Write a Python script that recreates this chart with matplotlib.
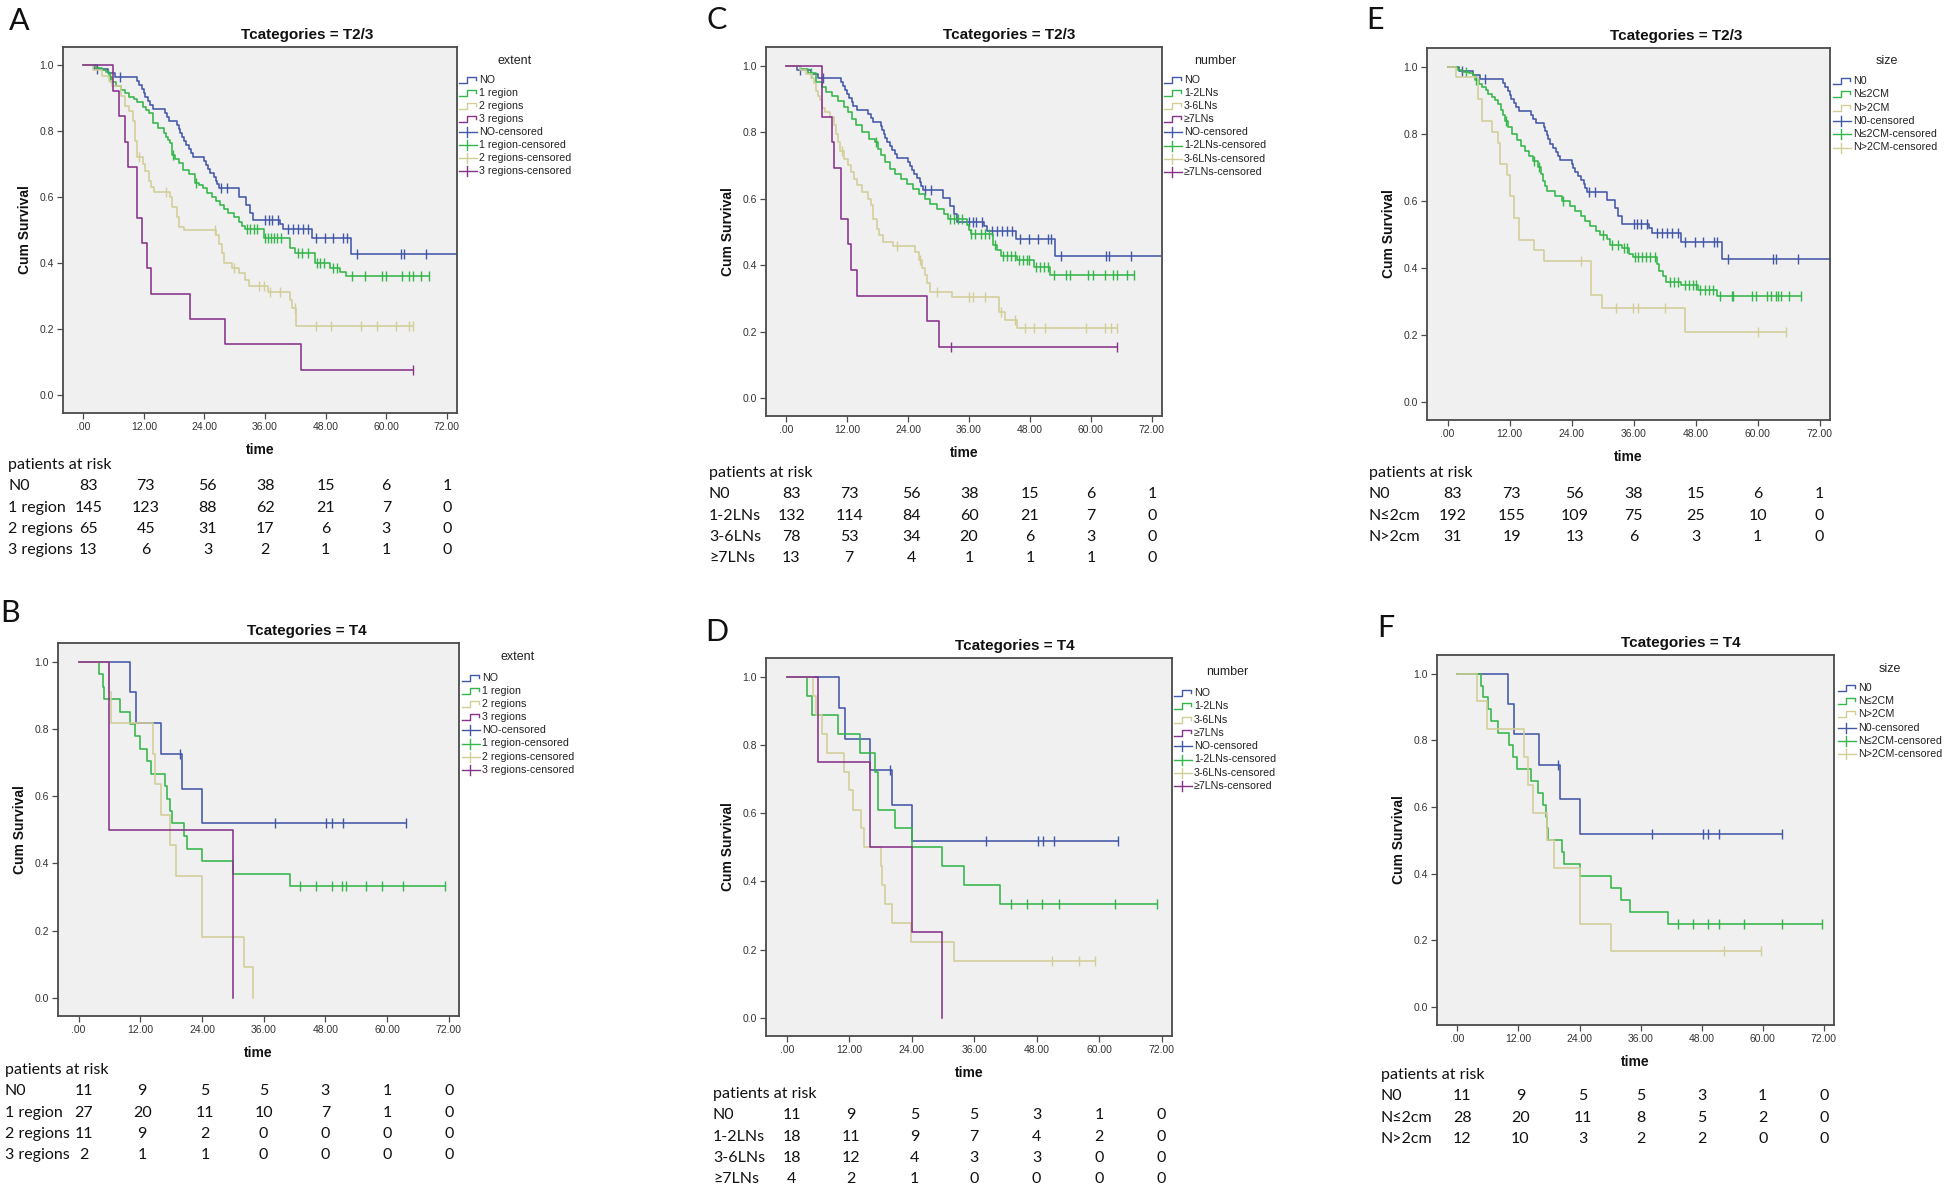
import matplotlib
matplotlib.use("Agg")
import matplotlib.pyplot as plt
import matplotlib.transforms as mtrans
from matplotlib.lines import Line2D
import numpy as np

W, H = 1946, 1189

# SPSS default colours
BLUE, GREEN, TAN, PURPLE = "#4257A8", "#35B64A", "#D3CE97", "#86328A"

SPSS_FONT = ["Liberation Sans", "DejaVu Sans"]
TABLE_FONT = ["Lato", "DejaVu Sans"]

x_ticks = [0, 12, 24, 36, 48, 60, 72]
x_tick_labels = [".00", "12.00", "24.00", "36.00", "48.00", "60.00", "72.00"]
y_ticks = [0.0, 0.2, 0.4, 0.6, 0.8, 1.0]
y_tick_labels = ["0.0", "0.2", "0.4", "0.6", "0.8", "1.0"]

# ---- N0, shared by the T2/3 panels (A, C, E)
n0_t23_time = [0, 2.2, 4.9, 6.3, 10.7, 11.1, 11.6, 12.0, 12.3, 12.9, 13.2, 13.9, 16.1, 16.6, 17.0,
               18.6, 18.9, 19.2, 19.5, 19.9, 20.4, 20.9, 21.4, 21.8, 24.0, 24.3, 24.7, 25.2, 25.8,
               26.3, 26.5, 26.9, 30.8, 32.3, 33.0, 33.7, 38.9, 39.5, 45.2, 53.0]
n0_t23_surv = [1.0, 0.988, 0.976, 0.964, 0.952, 0.940, 0.928, 0.916, 0.904, 0.892, 0.880, 0.867, 0.855,
               0.843, 0.831, 0.819, 0.807, 0.795, 0.783, 0.771, 0.759, 0.747, 0.735, 0.723, 0.711, 0.699,
               0.687, 0.675, 0.663, 0.651, 0.639, 0.627, 0.602, 0.578, 0.554, 0.530, 0.518, 0.503, 0.478, 0.427]
n0_t23_cens = [2.7, 7.2, 27.3, 28.5, 36.0, 36.7, 37.4, 38.5, 40.5, 41.5, 42.5, 43.5, 44.5, 46.0, 47.8,
               49.5, 51.5, 52.2, 54.2, 62.9, 63.6, 67.9]
n0_t23_end = 74.5

# ---- N0, shared by the T4 panels (B, D, F)
n0_t4_time = [0, 10.0, 11.1, 16.0, 20.2, 24.1]
n0_t4_surv = [1.0, 0.909, 0.818, 0.727, 0.623, 0.519]
n0_t4_cens = [19.8, 38.2, 48.2, 49.3, 51.4, 63.7]
n0_t4_end = 63.7

# ---- A: extent, T2/3
a_1r_time = [0, 2.5, 3.7, 4.5, 5.1, 5.7, 6.5, 7.4, 8.2, 9.0, 10.0, 10.7, 11.9, 12.5, 13.1, 13.9, 14.8,
             16.0, 16.4, 16.8, 17.2, 17.6, 18.2, 18.9, 19.7, 20.9, 22.1, 23.0, 23.8, 24.6, 25.4, 26.2,
             27.1, 27.9, 28.7, 29.8, 30.8, 31.4, 32.0, 35.7, 41.0, 42.0, 45.8, 48.8, 50.9, 52.1]
a_1r_surv = [1.0, 0.993, 0.986, 0.979, 0.965, 0.950, 0.938, 0.925, 0.915, 0.905, 0.897, 0.890, 0.875,
             0.865, 0.855, 0.824, 0.810, 0.794, 0.784, 0.774, 0.764, 0.728, 0.715, 0.703, 0.683, 0.670,
             0.644, 0.636, 0.627, 0.614, 0.602, 0.590, 0.577, 0.565, 0.552, 0.539, 0.526, 0.514, 0.503,
             0.476, 0.445, 0.430, 0.402, 0.385, 0.375, 0.360]
a_1r_cens = [5.3, 17.8, 22.3, 32.4, 33.0, 33.8, 34.5, 36.0, 36.6, 37.2, 37.8, 38.4, 39.1, 42.6, 43.4,
             44.5, 46.3, 46.9, 47.6, 49.4, 50.2, 53.3, 55.8, 59.1, 59.9, 63.2, 64.4, 65.2, 66.9, 68.5]
a_1r_end = 68.5

a_2r_time = [0, 2.0, 3.7, 5.1, 5.7, 7.5, 8.2, 9.0, 9.8, 10.3, 10.7, 11.9, 12.3, 13.0, 13.5, 14.1, 17.2,
             17.6, 18.5, 18.9, 20.0, 26.3, 26.8, 27.5, 27.9, 29.5, 30.8, 32.0, 32.8, 36.5, 41.0, 41.4, 42.2]
a_2r_surv = [1.0, 0.985, 0.969, 0.954, 0.938, 0.908, 0.877, 0.862, 0.831, 0.770, 0.723, 0.700, 0.680,
             0.650, 0.630, 0.617, 0.600, 0.570, 0.540, 0.510, 0.500, 0.485, 0.460, 0.430, 0.400, 0.385,
             0.370, 0.350, 0.330, 0.314, 0.290, 0.264, 0.210]
a_2r_cens = [11.1, 16.4, 26.1, 29.9, 34.9, 35.7, 36.9, 38.9, 42.0, 46.1, 49.1, 55.0, 58.1, 61.9, 64.4, 65.2]
a_2r_end = 65.2

a_3r_time = [0, 5.9, 7.0, 8.2, 8.8, 10.7, 11.7, 12.6, 13.4, 21.1, 28.1, 43.1]
a_3r_surv = [1.0, 0.923, 0.846, 0.769, 0.692, 0.538, 0.462, 0.385, 0.308, 0.231, 0.154, 0.077]
a_3r_cens = [65.2]
a_3r_end = 65.2

# ---- B: extent, T4
b_1r_time = [0, 4.0, 4.7, 5.0, 8.1, 10.1, 10.9, 11.9, 13.3, 14.1, 16.9, 17.2, 17.7, 18.1, 20.6, 21.0,
             24.0, 30.1, 41.1]
b_1r_surv = [1.0, 0.963, 0.926, 0.889, 0.852, 0.815, 0.778, 0.741, 0.704, 0.667, 0.630, 0.593, 0.556,
             0.519, 0.481, 0.444, 0.407, 0.370, 0.333]
b_1r_cens = [43.1, 46.1, 49.2, 51.2, 52.0, 56.0, 59.0, 63.1, 71.2]
b_1r_end = 71.2

b_2r_time = [0, 6.0, 6.4, 14.5, 14.9, 16.1, 17.7, 19.0, 24.0, 32.1, 34.0]
b_2r_surv = [1.0, 0.909, 0.818, 0.727, 0.636, 0.545, 0.455, 0.364, 0.182, 0.091, 0.0]

b_3r_time = [0, 6.0, 30.1]
b_3r_surv = [1.0, 0.5, 0.0]

# ---- C: number, T2/3
c_12_time = [0, 2.6, 4.2, 5.8, 7.0, 7.8, 9.0, 10.2, 11.4, 12.2, 13.0, 13.8, 15.0, 16.2, 17.4, 18.0,
             18.6, 19.4, 20.4, 21.4, 22.6, 23.8, 25.0, 26.2, 27.4, 28.4, 29.7, 31.1, 31.9, 35.5, 35.9,
             36.4, 40.7, 41.5, 42.3, 45.5, 48.7, 51.9]
c_12_surv = [1.0, 0.99, 0.977, 0.95, 0.935, 0.92, 0.91, 0.895, 0.875, 0.86, 0.84, 0.82, 0.80, 0.78,
             0.77, 0.75, 0.73, 0.71, 0.69, 0.675, 0.66, 0.645, 0.63, 0.615, 0.60, 0.585, 0.57, 0.555,
             0.54, 0.52, 0.505, 0.493, 0.459, 0.445, 0.426, 0.414, 0.394, 0.370]
c_12_cens = [4.8, 17.6, 32.3, 33.1, 33.9, 34.7, 36.4, 37.2, 38.3, 39.1, 39.9, 41.1, 42.7, 43.5, 44.3,
             45.1, 45.9, 46.7, 47.5, 47.9, 49.1, 49.9, 50.7, 51.5, 52.7, 55.1, 55.9, 59.5, 60.4, 62.8,
             64.4, 65.2, 67.2, 68.4]
c_12_end = 68.4

c_36_time = [0, 2.6, 3.8, 5.0, 5.4, 5.8, 6.2, 6.6, 7.0, 7.6, 8.6, 9.4, 9.8, 10.2, 10.6, 11.4, 12.2,
             12.8, 13.4, 14.0, 15.0, 16.1, 16.6, 17.0, 17.8, 18.2, 19.0, 21.0, 25.4, 26.2, 26.8, 27.4,
             27.8, 28.4, 32.7, 41.9, 43.1, 45.5]
c_36_surv = [1.0, 0.987, 0.974, 0.962, 0.949, 0.923, 0.910, 0.897, 0.872, 0.859, 0.846, 0.821, 0.795,
             0.769, 0.744, 0.718, 0.700, 0.680, 0.660, 0.640, 0.620, 0.600, 0.580, 0.540, 0.510, 0.490,
             0.470, 0.457, 0.440, 0.416, 0.390, 0.370, 0.345, 0.320, 0.305, 0.260, 0.235, 0.210]
c_36_cens = [11.0, 21.8, 26.4, 29.7, 35.9, 36.7, 39.1, 42.2, 45.1, 47.1, 48.7, 51.0, 59.1, 62.8, 64.0, 65.2]
c_36_end = 65.2

c_7_time = [0, 7.0, 9.0, 9.4, 10.8, 12.2, 12.8, 14.0, 27.8, 30.0]
c_7_surv = [1.0, 0.846, 0.769, 0.692, 0.538, 0.462, 0.385, 0.308, 0.231, 0.154]
c_7_cens = [32.5, 65.2]
c_7_end = 65.2

# ---- D: number, T4
d_12_time = [0, 3.9, 4.9, 9.8, 14.0, 17.0, 17.5, 17.6, 20.7, 24.0, 29.9, 34.0, 41.0]
d_12_surv = [1.0, 0.944, 0.889, 0.833, 0.778, 0.722, 0.667, 0.611, 0.556, 0.5, 0.444, 0.389, 0.333]
d_12_cens = [43.0, 46.2, 49.1, 52.2, 63.1, 71.2]
d_12_end = 71.2

d_36_time = [0, 5.0, 5.6, 6.8, 7.8, 11.0, 11.9, 12.7, 14.2, 14.9, 18.0, 18.2, 18.9, 20.3, 23.9, 32.1]
d_36_surv = [1.0, 0.944, 0.889, 0.833, 0.778, 0.722, 0.667, 0.611, 0.556, 0.5, 0.444, 0.389, 0.333,
             0.278, 0.222, 0.167]
d_36_cens = [51.0, 56.1, 59.2]
d_36_end = 59.2

d_7_time = [0, 6.0, 16.0, 24.0, 29.9]
d_7_surv = [1.0, 0.75, 0.5, 0.25, 0.0]

# ---- E: size, T2/3
e_le2_time = [0, 2.0, 2.7, 4.2, 4.9, 5.3, 6.0, 6.7, 7.4, 7.8, 8.5, 9.2, 9.8, 10.3, 10.7, 11.0, 11.7,
              12.5, 13.4, 14.1, 15.0, 15.7, 16.6, 17.5, 18.1, 18.5, 18.8, 19.3, 20.7, 22.2, 23.6, 24.7,
              25.8, 26.5, 27.6, 28.7, 29.4, 30.8, 31.5, 33.7, 35.1, 35.9, 40.5, 40.9, 41.6, 42.3, 45.2,
              48.5, 52.1]
e_le2_surv = [1.0, 0.99, 0.985, 0.98, 0.975, 0.96, 0.95, 0.94, 0.93, 0.92, 0.91, 0.90, 0.89, 0.87,
              0.855, 0.838, 0.82, 0.80, 0.78, 0.765, 0.75, 0.735, 0.72, 0.70, 0.68, 0.66, 0.645, 0.63,
              0.615, 0.60, 0.585, 0.57, 0.555, 0.54, 0.525, 0.51, 0.498, 0.485, 0.468, 0.458, 0.44,
              0.432, 0.41, 0.39, 0.375, 0.359, 0.3475, 0.335, 0.315]
e_le2_cens = [3.5, 5.4, 11.2, 16.8, 17.7, 22.3, 30.0, 31.9, 33.0, 34.1, 34.8, 36.2, 36.9, 37.7, 38.4,
              39.1, 40.2, 43.1, 43.8, 44.5, 45.9, 46.7, 47.4, 48.1, 48.8, 49.9, 50.6, 51.3, 52.8, 55.0,
              55.3, 58.9, 59.6, 61.8, 62.5, 63.6, 63.9, 64.6, 66.1, 68.3]
e_le2_end = 68.3

e_gt2_time = [0, 1.7, 5.8, 6.7, 8.6, 9.8, 10.1, 11.5, 12.0, 12.8, 13.9, 16.8, 18.6, 27.8, 29.9, 45.9]
e_gt2_surv = [1.0, 0.968, 0.903, 0.839, 0.806, 0.774, 0.710, 0.677, 0.613, 0.548, 0.484, 0.452, 0.419,
              0.320, 0.280, 0.210]
e_gt2_cens = [25.8, 32.5, 35.9, 36.9, 42.0, 60.0, 65.4]
e_gt2_end = 65.4

# ---- F: size, T4
f_le2_time = [0, 4.7, 5.0, 6.1, 6.7, 8.0, 10.1, 11.0, 11.7, 14.5, 15.8, 16.9, 17.4, 17.6, 17.8, 20.6,
              20.9, 24.1, 30.1, 32.1, 34.0, 41.3]
f_le2_surv = [1.0, 0.964, 0.929, 0.893, 0.857, 0.821, 0.786, 0.75, 0.714, 0.679, 0.643, 0.607, 0.571,
              0.536, 0.5, 0.464, 0.429, 0.393, 0.357, 0.321, 0.286, 0.25]
f_le2_cens = [43.4, 46.3, 49.3, 51.4, 56.3, 63.7, 71.7]
f_le2_end = 71.7

f_gt2_time = [0, 3.9, 5.8, 13.0, 13.9, 14.8, 17.6, 18.9, 24.1, 30.1]
f_gt2_surv = [1.0, 0.917, 0.833, 0.75, 0.667, 0.583, 0.5, 0.417, 0.25, 0.167]
f_gt2_cens = [52.4, 59.7]
f_gt2_end = 59.7

# ---- patients at risk tables
extent_rows = ["N0", "1 region", "2 regions", "3 regions"]
number_rows = ["N0", "1-2LNs", "3-6LNs", "≥7LNs"]
size_rows = ["N0", "N≤2cm", "N>2cm"]

a_risk = [[83, 73, 56, 38, 15, 6, 1], [145, 123, 88, 62, 21, 7, 0], [65, 45, 31, 17, 6, 3, 0], [13, 6, 3, 2, 1, 1, 0]]
b_risk = [[11, 9, 5, 5, 3, 1, 0], [27, 20, 11, 10, 7, 1, 0], [11, 9, 2, 0, 0, 0, 0], [2, 1, 1, 0, 0, 0, 0]]
c_risk = [[83, 73, 56, 38, 15, 6, 1], [132, 114, 84, 60, 21, 7, 0], [78, 53, 34, 20, 6, 3, 0], [13, 7, 4, 1, 1, 1, 0]]
d_risk = [[11, 9, 5, 5, 3, 1, 0], [18, 11, 9, 7, 4, 2, 0], [18, 12, 4, 3, 3, 0, 0], [4, 2, 1, 0, 0, 0, 0]]
e_risk = [[83, 73, 56, 38, 15, 6, 1], [192, 155, 109, 75, 25, 10, 0], [31, 19, 13, 6, 3, 1, 0]]
f_risk = [[11, 9, 5, 5, 3, 1, 0], [28, 20, 11, 8, 5, 2, 0], [12, 10, 3, 2, 2, 0, 0]]

extent_legend = ["NO", "1 region", "2 regions", "3 regions"]
number_legend = ["NO", "1-2LNs", "3-6LNs", "≥7LNs"]
size_legend = ["N0", "N≤2CM", "N>2CM"]

# small pixel nudges of the risk columns relative to the ticks
col_shift = [5, 2, 3, 0, 0, 0, 0]

N0_T23 = (n0_t23_time, n0_t23_surv, n0_t23_cens, n0_t23_end, BLUE)
N0_T4 = (n0_t4_time, n0_t4_surv, n0_t4_cens, n0_t4_end, BLUE)

panels = [
    dict(letter="A", title="Tcategories = T2/3", rect=(63, 47, 457, 413), letter_xy=(19, 21),
         curves=[N0_T23, (a_1r_time, a_1r_surv, a_1r_cens, a_1r_end, GREEN),
                 (a_2r_time, a_2r_surv, a_2r_cens, a_2r_end, TAN),
                 (a_3r_time, a_3r_surv, a_3r_cens, a_3r_end, PURPLE)],
         leg_title="extent", leg_labels=extent_legend, leg_title_xy=(515, 61), leg_x0=459, leg_y0=80, leg_dy=13.0,
         rows=extent_rows, risk=a_risk, risk_x=8, risk_y=465, title_x=307),
    dict(letter="B", title="Tcategories = T4", rect=(58, 643, 459, 1016), letter_xy=(10, 613),
         curves=[N0_T4, (b_1r_time, b_1r_surv, b_1r_cens, b_1r_end, GREEN),
                 (b_2r_time, b_2r_surv, [], None, TAN),
                 (b_3r_time, b_3r_surv, [], None, PURPLE)],
         leg_title="extent", leg_labels=extent_legend, leg_title_xy=(518, 657), leg_x0=462, leg_y0=678, leg_dy=13.1,
         rows=extent_rows, risk=b_risk, risk_x=5, risk_y=1070, title_x=307),
    dict(letter="C", title="Tcategories = T2/3", rect=(766, 47, 1162, 416), letter_xy=(717, 20),
         curves=[N0_T23, (c_12_time, c_12_surv, c_12_cens, c_12_end, GREEN),
                 (c_36_time, c_36_surv, c_36_cens, c_36_end, TAN),
                 (c_7_time, c_7_surv, c_7_cens, c_7_end, PURPLE)],
         leg_title="number", leg_labels=number_legend, leg_title_xy=(1215, 61), leg_x0=1164, leg_y0=80, leg_dy=13.1,
         rows=number_rows, risk=c_risk, risk_x=709, risk_y=473, title_x=1009),
    dict(letter="D", title="Tcategories = T4", rect=(766, 658, 1172, 1036), letter_xy=(717, 632),
         curves=[N0_T4, (d_12_time, d_12_surv, d_12_cens, d_12_end, GREEN),
                 (d_36_time, d_36_surv, d_36_cens, d_36_end, TAN),
                 (d_7_time, d_7_surv, [], None, PURPLE)],
         leg_title="number", leg_labels=number_legend, leg_title_xy=(1227, 672), leg_x0=1174, leg_y0=693, leg_dy=13.3,
         rows=number_rows, risk=d_risk, risk_x=713, risk_y=1094, title_x=1015),
    dict(letter="E", title="Tcategories = T2/3", rect=(1427, 48, 1830, 420), letter_xy=(1375, 20),
         curves=[N0_T23, (e_le2_time, e_le2_surv, e_le2_cens, e_le2_end, GREEN),
                 (e_gt2_time, e_gt2_surv, e_gt2_cens, e_gt2_end, TAN)],
         leg_title="size", leg_labels=size_legend, leg_title_xy=(1887, 61), leg_x0=1833, leg_y0=81, leg_dy=13.3,
         rows=size_rows, risk=e_risk, risk_x=1369, risk_y=473, title_x=1676),
    dict(letter="F", title="Tcategories = T4", rect=(1437, 655, 1834, 1025), letter_xy=(1386, 628),
         curves=[N0_T4, (f_le2_time, f_le2_surv, f_le2_cens, f_le2_end, GREEN),
                 (f_gt2_time, f_gt2_surv, f_gt2_cens, f_gt2_end, TAN)],
         leg_title="size", leg_labels=size_legend, leg_title_xy=(1890, 669), leg_x0=1838, leg_y0=688, leg_dy=13.2,
         rows=size_rows, risk=f_risk, risk_x=1381, risk_y=1075, title_x=1681),
]


def fx(x):
    return x / W


def fy(y):
    return 1 - y / H


def surv_at(times, surv, t):
    idx = np.searchsorted(np.array(times), np.array(t), side="right") - 1
    return np.array(surv)[idx]


fig = plt.figure(figsize=(W / 100, H / 100), dpi=100)
fig.patch.set_facecolor("white")

for p in panels:
    l, t, r, b = p["rect"]
    ax = fig.add_axes([fx(l), fy(b), fx(r - l), (b - t) / H])
    ax.set_facecolor("#F0F0F0")
    ax.set_xlim(-4, 74)
    ax.set_ylim(-0.054, 1.056)
    for s in ax.spines.values():
        s.set_color("#4a4a4a")
        s.set_linewidth(1.3)
    ax.set_xticks(x_ticks)
    ax.set_xticklabels(x_tick_labels, family=SPSS_FONT, fontsize=7.5, color="#333333")
    ax.set_yticks(y_ticks)
    ax.set_yticklabels(y_tick_labels, family=SPSS_FONT, fontsize=7.5, color="#333333")
    ax.tick_params(direction="out", length=4.5, width=0.9, color="#4a4a4a", pad=2)

    colors = []
    for times, surv, cens, end, color in p["curves"]:
        xs = list(times)
        ys = list(surv)
        if end is not None:
            xs.append(end)
            ys.append(surv[-1])
        ax.step(xs, ys, where="post", color=color, lw=1.15)
        if cens:
            ax.plot(cens, surv_at(times, surv, cens), ls="none", marker="|", ms=6.5, mew=1.0, color=color)
        colors.append(color)

    # titles and axis labels
    fig.text(fx(p["title_x"]), fy(t - 12), p["title"], ha="center", va="center",
             fontsize=11, fontweight="bold", family=SPSS_FONT, color="#111111")
    fig.text(fx(l - 38), fy((t + b) / 2), "Cum Survival", rotation=90, ha="center", va="center",
             fontsize=10, fontweight="bold", family=SPSS_FONT, color="#111111")
    fig.text(fx((l + r) / 2), fy(b + 37), "time", ha="center", va="center",
             fontsize=10, fontweight="bold", family=SPSS_FONT, color="#111111")
    fig.text(fx(p["letter_xy"][0]), fy(p["letter_xy"][1]), p["letter"], ha="center", va="center",
             fontsize=22, family=TABLE_FONT, color="#111111")

    # legend
    tx, ty = p["leg_title_xy"]
    fig.text(fx(tx), fy(ty), p["leg_title"], ha="center", va="center", fontsize=9,
             family=SPSS_FONT, color="#222222")
    x0, y0, dy = p["leg_x0"], p["leg_y0"], p["leg_dy"]
    labels = p["leg_labels"] + [lab + "-censored" for lab in p["leg_labels"]]
    for i, lab in enumerate(labels):
        yc = y0 + i * dy
        c = colors[i % len(colors)]
        if i < len(colors):
            gx = [x0, x0 + 8, x0 + 8, x0 + 17, x0 + 17]
            gy = [yc + 3, yc + 3, yc - 3, yc - 3, yc]
            fig.add_artist(Line2D([fx(v) for v in gx], [fy(v) for v in gy], color=c, lw=1.0,
                                  transform=fig.transFigure))
        else:
            fig.add_artist(Line2D([fx(x0), fx(x0 + 18)], [fy(yc), fy(yc)], color=c, lw=1.0,
                                  transform=fig.transFigure))
            fig.add_artist(Line2D([fx(x0 + 8), fx(x0 + 8)], [fy(yc - 5), fy(yc + 5)], color=c, lw=1.0,
                                  transform=fig.transFigure))
        fig.text(fx(x0 + 20), fy(yc), lab, ha="left", va="center", fontsize=7.7,
                 family=SPSS_FONT, color="#222222")

    # patients at risk
    fig.text(fx(p["risk_x"]), fy(p["risk_y"]), "patients at risk", ha="left", va="center",
             fontsize=11.5, family=TABLE_FONT, color="#111111")
    base = mtrans.blended_transform_factory(ax.transData, fig.transFigure)
    for k, (name, vals) in enumerate(zip(p["rows"], p["risk"])):
        yrow = p["risk_y"] + 21.3 * (k + 1)
        fig.text(fx(p["risk_x"]), fy(yrow), name, ha="left", va="center", fontsize=11.5,
                 family=TABLE_FONT, color="#111111")
        for tt, v, sh in zip(x_ticks, vals, col_shift):
            trans = mtrans.offset_copy(base, fig=fig, x=sh, y=0, units="dots")
            ax.text(tt, fy(yrow), str(v), transform=trans, ha="center", va="center",
                    fontsize=11.5, family=TABLE_FONT, color="#111111", clip_on=False)

fig.savefig("out.png", dpi=100, facecolor="white")
